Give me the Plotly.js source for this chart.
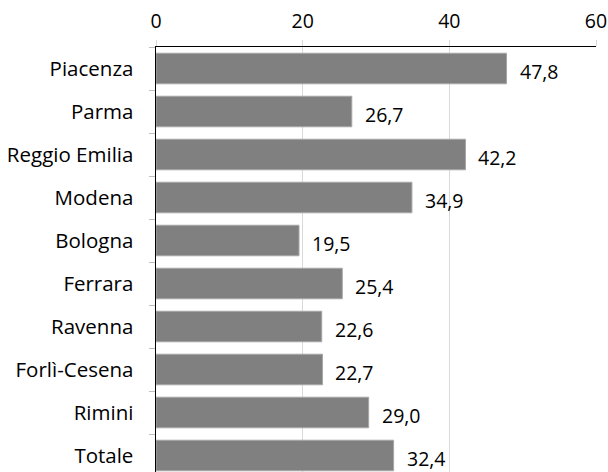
<!DOCTYPE html>
<html><head><meta charset="utf-8">
<script src="https://cdn.plot.ly/plotly-3.0.1.min.js"></script>
<style>html,body{margin:0;padding:0;overflow:hidden;background:#fff}</style>
</head><body>
<div id="chart" style="width:608px;height:477px"></div>
<script>
const categories = ["Piacenza","Parma","Reggio Emilia","Modena","Bologna","Ferrara","Ravenna","Forlì-Cesena","Rimini","Totale"];
const values = [47.8,26.7,42.2,34.9,19.5,25.4,22.6,22.7,29.0,32.4];
const xTicks = [0,20,40,60];

const fontFam = "'Open Sans', sans-serif";
const trace = {
  type: 'bar', orientation: 'h',
  x: values, y: categories,
  marker: {color: '#808080', line: {color: '#a6a6a6', width: 1}},
  width: 0.71,
  hoverinfo: 'skip'
};
const annotations = values.map((v, i) => ({
  x: v, y: categories[i], xref: 'x', yref: 'y',
  text: v.toFixed(1).replace('.', ','),
  showarrow: false, xanchor: 'left', yanchor: 'middle',
  xshift: 11, yshift: -3,
  font: {family: fontFam, size: 19.5, color: '#000'}
}));
const layout = {
  width: 608, height: 477,
  margin: {l: 156, r: 12, t: 47, b: 0},
  paper_bgcolor: '#fff', plot_bgcolor: '#fff',
  showlegend: false,
  font: {family: fontFam, size: 19, color: '#000'},
  xaxis: {
    side: 'top', range: [0, 60], tickvals: xTicks,
    showgrid: true, gridcolor: '#d9d9d9', gridwidth: 1,
    showline: true, linecolor: '#000', linewidth: 1.5,
    ticks: 'outside', ticklen: 6, tickcolor: '#d9d9d9',
    zeroline: false, fixedrange: true,
    ticklabelstandoff: 4,
    tickfont: {family: fontFam, size: 19.5, color: '#000'}
  },
  yaxis: {
    autorange: 'reversed', type: 'category',
    showline: true, linecolor: '#000', linewidth: 1.5,
    ticks: 'outside', ticklen: 6, tickcolor: '#bfbfbf', tickson: 'boundaries',
    showgrid: false, zeroline: false, fixedrange: true,
    ticklabelstandoff: 17,
    tickfont: {family: fontFam, size: 20.5, color: '#000'}
  },
  bargap: 0.29,
  annotations: annotations
};
Plotly.newPlot('chart', [trace], layout, {displayModeBar: false, staticPlot: true});
</script>
</body></html>
